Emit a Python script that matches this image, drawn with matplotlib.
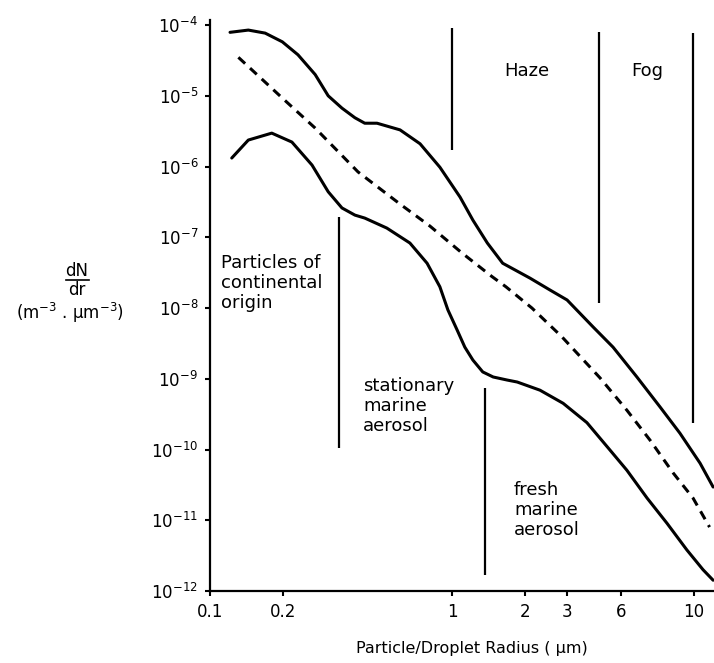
import numpy as np
import matplotlib
matplotlib.use("Agg")
import matplotlib.pyplot as plt
from matplotlib.lines import Line2D

# particle radius (um) / dN/dr
r_upper=[0.121,0.144,0.169,0.199,0.231,0.272,0.308,0.351,0.397,0.436,0.490,0.610,0.738,0.891,1.08,1.22,1.40,1.62,
         2.10,2.54,2.99,3.83,4.63,5.81,7.24,8.75,10.6,12.0]
n_upper=[7.9e-5,8.5e-5,7.7e-5,5.8e-5,3.8e-5,2.0e-5,1.0e-5,6.7e-6,4.9e-6,4.1e-6,4.1e-6,3.3e-6,2.1e-6,9.8e-7,3.7e-7,1.75e-7,
         8.3e-8,4.3e-8,2.65e-8,1.8e-8,1.3e-8,5.4e-9,2.8e-9,1.06e-9,4.0e-10,1.7e-10,6.4e-11,2.95e-11]
r_mid=[0.131,0.199,0.272,0.409,0.610,0.811,1.10,1.46,1.67,2.14,2.85,4.09,5.28,6.58,8.19,9.91,11.6]
n_mid=[3.5e-5,9.3e-6,3.5e-6,8.4e-7,2.95e-7,1.44e-7,6.0e-8,2.8e-8,2.0e-8,1.0e-8,3.9e-9,1.03e-9,3.6e-10,1.36e-10,4.7e-11,
       2.06e-11,8.0e-12]
r_lower=[0.123,0.144,0.180,0.218,0.264,0.308,0.351,0.397,0.436,0.538,0.670,0.789,0.891,0.962,1.05,1.13,1.22,1.34,1.48,
         1.69,1.86,2.31,2.88,3.61,4.50,5.28,6.40,7.73,9.35,10.9,12.0]
n_lower=[1.32e-6,2.37e-6,2.97e-6,2.22e-6,1.05e-6,4.4e-7,2.6e-7,2.06e-7,1.87e-7,1.35e-7,8.3e-8,4.3e-8,2.0e-8,9.4e-9,4.9e-9,
         2.8e-9,1.84e-9,1.25e-9,1.06e-9,9.6e-10,9.0e-10,6.9e-10,4.5e-10,2.4e-10,9.8e-11,5.1e-11,2.06e-11,9.1e-12,3.8e-12,
         2.0e-12,1.42e-12]

# regime boundaries
bound_r=[0.341,1.0,4.05,9.9,1.37]
bound_top=[1.94e-7,9.1e-5,8.0e-5,7.7e-5,7.4e-10]
bound_bot=[1.05e-10,1.7e-6,1.17e-8,2.36e-10,1.7e-12]

xticks=[0.1,0.2,1,2,3,5,10]
xticklabels=["0.1","0.2","1","2","3","6","10"]
yticks=[1e-4,1e-5,1e-6,1e-7,1e-8,1e-9,1e-10,1e-11,1e-12]

W,H=714,663
fig=plt.figure(figsize=(W/100,H/100),dpi=100)
ax=fig.add_axes([210/W,1-591/H,504/W,571/H])
ax.set_xscale("log"); ax.set_yscale("log")
ax.set_xlim(0.1,12.1); ax.set_ylim(1e-12,1.18e-4)

ax.plot(r_upper,n_upper,color="k",lw=2.2,solid_capstyle="round",solid_joinstyle="round",clip_on=False)
ax.plot(r_mid,n_mid,color="k",lw=2.2,dashes=(3.0,2.2),clip_on=False)
ax.plot(r_lower,n_lower,color="k",lw=2.2,solid_capstyle="round",solid_joinstyle="round",clip_on=False)
ax.vlines(bound_r,bound_bot,bound_top,color="k",lw=1.6)

ax.set_xticks(xticks); ax.set_xticklabels(xticklabels)
ax.set_yticks(yticks); ax.set_yticklabels([f"$10^{{{int(np.log10(v))}}}$" for v in yticks])
ax.minorticks_off()
ax.tick_params(axis="both",direction="out",length=3.5,width=1.5,labelsize=12,pad=5)
for s in ("top","right"): ax.spines[s].set_visible(False)
for s in ("left","bottom"): ax.spines[s].set_linewidth(1.6)

def px(x,y): return x/W,1-y/H
fs=13
fig.text(*px(527,71),"Haze",fontsize=fs,ha="center",va="center")
fig.text(*px(647,71),"Fog",fontsize=fs,ha="center",va="center")
fig.text(*px(221,254),"Particles of\ncontinental\norigin",fontsize=fs,ha="left",va="top",linespacing=1.15)
fig.text(*px(363,377),"stationary\nmarine\naerosol",fontsize=fs,ha="left",va="top",linespacing=1.15)
fig.text(*px(514,481),"fresh\nmarine\naerosol",fontsize=fs,ha="left",va="top",linespacing=1.15)

fig.text(*px(77,271),"dN",fontsize=12,ha="center",va="center")
fig.text(*px(77,290),"dr",fontsize=12,ha="center",va="center")
fig.add_artist(Line2D([66/W,89/W],[1-280/H,1-280/H],color="k",lw=1.2,transform=fig.transFigure))
fig.text(*px(70,313),"(m$^{-3}$ . μm$^{-3}$)",fontsize=12,ha="center",va="center")
fig.text(*px(472,649),"Particle/Droplet Radius ( μm)",fontsize=11.5,ha="center",va="center")

fig.savefig("out.png",dpi=100)
